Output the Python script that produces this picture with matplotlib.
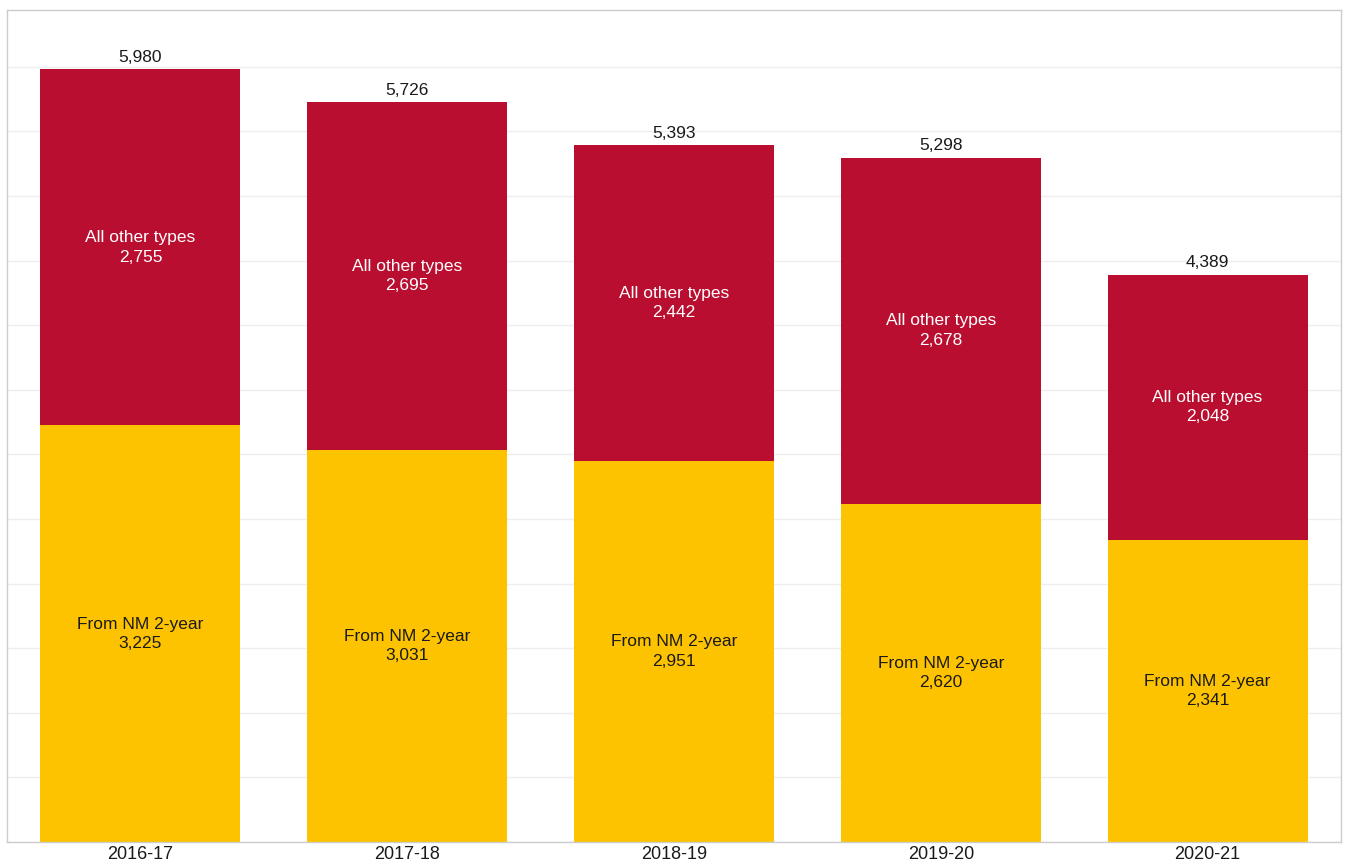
import matplotlib.pyplot as plt
import matplotlib as mpl

mpl.rcParams["font.family"] = ["Liberation Sans", "DejaVu Sans"]

years = ["2016-17", "2017-18", "2018-19", "2019-20", "2020-21"]
from_nm = [3225, 3031, 2951, 2620, 2341]
other = [2755, 2695, 2442, 2678, 2048]
totals = [5980, 5726, 5393, 5298, 4389]

red = "#B90E2F"
yellow = "#FEC300"

fig = plt.figure(figsize=(13.47, 8.63), dpi=100)
ax = fig.add_axes([0.0052, 0.0243, 0.9903, 0.9641])

x = range(len(years))
ax.bar(x, from_nm, width=0.75, color=yellow, zorder=2)
ax.bar(x, other, width=0.75, bottom=from_nm, color=red, zorder=2)

for i in x:
    ax.text(i, from_nm[i] / 2, "From NM 2-year\n{:,}".format(from_nm[i]),
            ha="center", va="center", fontsize=12.5, color="#1a1a1a", linespacing=1.35)
    ax.text(i, from_nm[i] + other[i] / 2, "All other types\n{:,}".format(other[i]),
            ha="center", va="center", fontsize=12.5, color="white", linespacing=1.35)
    ax.text(i, totals[i] + 35, "{:,}".format(totals[i]),
            ha="center", va="bottom", fontsize=12.5, color="#1a1a1a")

ax.set_xlim(-0.5, 4.5)
ax.set_ylim(0, 6440)
ax.set_xticks(list(x))
ax.set_xticklabels(years, fontsize=13, color="#1a1a1a")
ax.set_yticks(range(0, 6500, 500))
ax.tick_params(axis="x", length=0, pad=3)
ax.tick_params(axis="y", length=0, labelleft=False)
ax.grid(axis="y", color="#eeeeee", linewidth=1, zorder=0)
for s in ax.spines.values():
    s.set_color("#cccccc")
    s.set_linewidth(1)

fig.savefig("out.png", dpi=100)
